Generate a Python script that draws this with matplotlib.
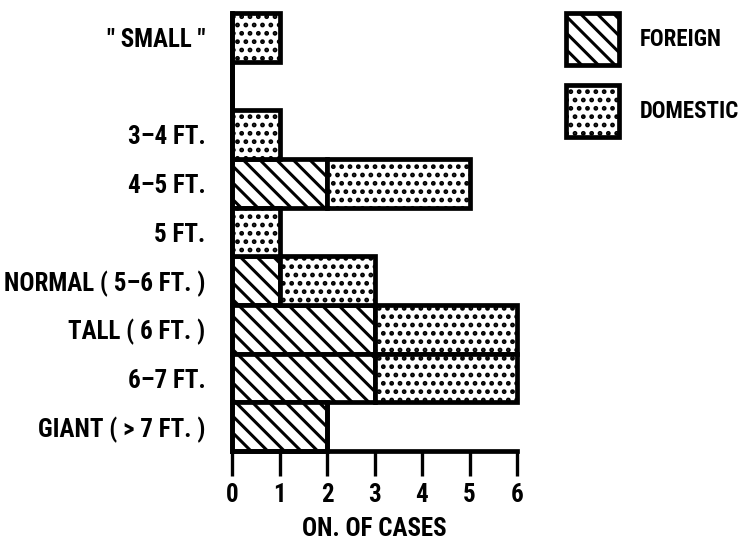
import matplotlib
matplotlib.use("Agg")
import matplotlib.pyplot as plt
import numpy as np

plt.rcParams["font.family"] = ["Roboto Condensed", "Saira SemiCondensed", "DejaVu Sans"]
plt.rcParams["font.weight"] = "bold"
plt.rcParams["axes.labelweight"] = "bold"
plt.rcParams["hatch.linewidth"] = 2.2
plt.rcParams["hatch.color"] = "black"

# top to bottom; the blank slot is a real gap in the original chart
categories = ['" SMALL "', "", "3–4 FT.", "4–5 FT.", "5 FT.",
              "NORMAL ( 5–6 FT. )", "TALL ( 6 FT. )", "6–7 FT.", "GIANT ( > 7 FT. )"]
foreign = [0, 0, 0, 2, 0, 1, 3, 3, 2]
domestic = [1, 0, 1, 3, 1, 2, 3, 3, 0]
xticks = [0, 1, 2, 3, 4, 5, 6]

FS = 18
LEG_FS = 16.5
EDGE = 3.4

fig = plt.figure(figsize=(7.45, 5.41), dpi=100)
ax = fig.add_axes([232 / 745, 90 / 541, 285 / 745, 438 / 541])

y = np.arange(len(categories))[::-1]
f = np.array(foreign)
d = np.array(domestic)

ax.barh(y, f, height=1.0, color="white", edgecolor="black",
        linewidth=EDGE, hatch="\\\\", label="FOREIGN", clip_on=False)
ax.barh(y, d, left=f, height=1.0, color="white", edgecolor="black",
        linewidth=EDGE, hatch="..", label="DOMESTIC", clip_on=False)

ax.set_xlim(0, 6)
ax.set_ylim(-0.5, len(categories) - 0.5)
ax.set_yticks(y)
ax.set_yticklabels(categories, fontsize=FS)
ax.set_xticks(xticks)
ax.set_xticklabels([str(t) for t in xticks], fontsize=FS)
ax.tick_params(axis="y", length=0, pad=19)
ax.tick_params(axis="x", direction="out", length=18, width=2.4, pad=5)
ax.set_xlabel("ON. OF CASES", fontsize=FS, fontweight="bold", labelpad=7)

ax.spines[["top", "right"]].set_visible(False)
ax.spines["left"].set_linewidth(EDGE)
ax.spines["bottom"].set_linewidth(EDGE)

# legend sits to the right of the plot, square hatched swatches
ax.legend(loc="upper left", bbox_to_anchor=(566 / 745, 1 - 13 / 541),
          bbox_transform=fig.transFigure, frameon=False, fontsize=LEG_FS,
          handlelength=2.31, handleheight=3.12, labelspacing=0.87,
          handletextpad=0.9, borderpad=0, borderaxespad=0)

fig.savefig("out.png", dpi=100)
